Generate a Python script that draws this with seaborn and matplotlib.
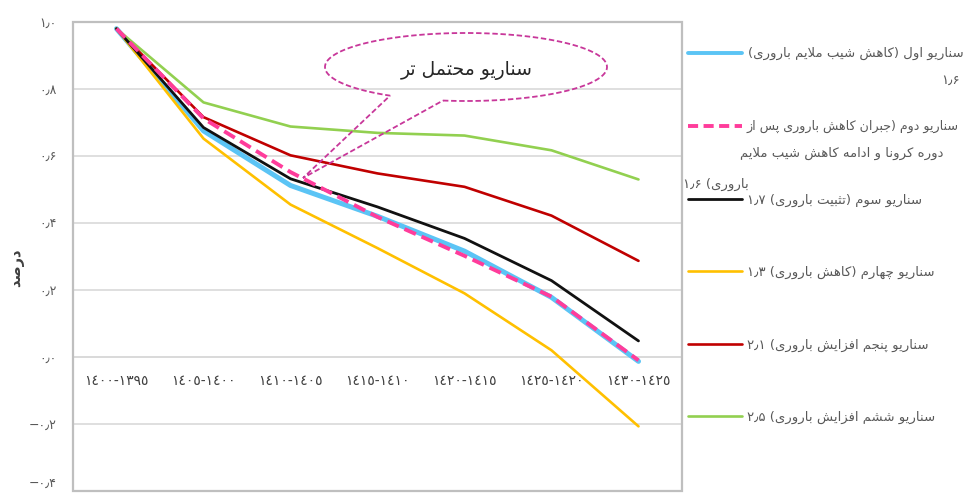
import re
import numpy as np
import pandas as pd
import matplotlib
matplotlib.use("Agg")
import matplotlib.pyplot as plt
from matplotlib.lines import Line2D
from matplotlib.patches import Polygon, Rectangle
import seaborn as sns

# ---------------- data ----------------
periods = ["١٤٠٠-١٣٩٥", "١٤٠٥-١٤٠٠", "١٤١٠-١٤٠٥", "١٤١٥-١٤١٠",
           "١٤٢٠-١٤١٥", "١٤٢٥-١٤٢٠", "١٤٣٠-١٤٢٥"]
s1_blue = [0.98, 0.675, 0.512, 0.420, 0.316, 0.178, -0.013]
s2_pink = [0.98, 0.712, 0.552, 0.418, 0.302, 0.180, -0.010]
s3_black = [0.98, 0.685, 0.532, 0.448, 0.354, 0.228, 0.048]
s4_orange = [0.98, 0.652, 0.455, 0.325, 0.190, 0.020, -0.207]
s5_red = [0.98, 0.716, 0.602, 0.548, 0.508, 0.422, 0.287]
s6_green = [0.98, 0.760, 0.688, 0.669, 0.661, 0.617, 0.530]

legend_labels = [
    "سناریو اول (کاهش شیب ملایم باروری)\n۱٫۶",
    "سناریو دوم (جبران کاهش باروری پس از\nدوره کرونا و ادامه کاهش شیب ملایم\nباروری) ۱٫۶",
    "سناریو سوم (تثبیت باروری) ۱٫۷",
    "سناریو چهارم (کاهش باروری) ۱٫۳",
    "سناریو پنجم افزایش باروری) ۲٫۱",
    "سناریو ششم افزایش باروری) ۲٫۵",
]
ytick_values = [1.0, 0.8, 0.6, 0.4, 0.2, 0.0, -0.2, -0.4]
ytick_labels = ["۱٫۰", "۰٫۸", "۰٫۶", "۰٫۴", "۰٫۲", "۰٫۰", "−۰٫۲", "−۰٫۴"]
y_title = "درصد"
callout_text = "سناریو محتمل تر"

# ---------------- Persian shaping (matplotlib has no complex text layout) ----------------
FORMS = {
    '\u0627': ('\uFE8D', '\uFE8E', None, None),
    '\u0628': ('\uFE8F', '\uFE90', '\uFE91', '\uFE92'),
    '\u062A': ('\uFE95', '\uFE96', '\uFE97', '\uFE98'),
    '\u062B': ('\uFE99', '\uFE9A', '\uFE9B', '\uFE9C'),
    '\u062C': ('\uFE9D', '\uFE9E', '\uFE9F', '\uFEA0'),
    '\u062D': ('\uFEA1', '\uFEA2', '\uFEA3', '\uFEA4'),
    '\u062E': ('\uFEA5', '\uFEA6', '\uFEA7', '\uFEA8'),
    '\u062F': ('\uFEA9', '\uFEAA', None, None),
    '\u0630': ('\uFEAB', '\uFEAC', None, None),
    '\u0631': ('\uFEAD', '\uFEAE', None, None),
    '\u0632': ('\uFEAF', '\uFEB0', None, None),
    '\u0633': ('\uFEB1', '\uFEB2', '\uFEB3', '\uFEB4'),
    '\u0634': ('\uFEB5', '\uFEB6', '\uFEB7', '\uFEB8'),
    '\u0635': ('\uFEB9', '\uFEBA', '\uFEBB', '\uFEBC'),
    '\u0641': ('\uFED1', '\uFED2', '\uFED3', '\uFED4'),
    '\u0642': ('\uFED5', '\uFED6', '\uFED7', '\uFED8'),
    '\u0644': ('\uFEDD', '\uFEDE', '\uFEDF', '\uFEE0'),
    '\u0645': ('\uFEE1', '\uFEE2', '\uFEE3', '\uFEE4'),
    '\u0646': ('\uFEE5', '\uFEE6', '\uFEE7', '\uFEE8'),
    '\u0647': ('\uFEE9', '\uFEEA', '\uFEEB', '\uFEEC'),
    '\u0648': ('\uFEED', '\uFEEE', None, None),
    '\u067E': ('\uFB56', '\uFB57', '\uFB58', '\uFB59'),
    '\u0686': ('\uFB7A', '\uFB7B', '\uFB7C', '\uFB7D'),
    '\u0698': ('\uFB8A', '\uFB8B', None, None),
    '\u06A9': ('\uFB8E', '\uFB8F', '\uFB90', '\uFB91'),
    '\u06AF': ('\uFB92', '\uFB93', '\uFB94', '\uFB95'),
    '\u06CC': ('\uFBFC', '\uFBFD', '\uFBFE', '\uFBFF'),
    'LA': ('\uFEFB', '\uFEFC', None, None),
}


def shape(text):
    chars = []
    i = 0
    while i < len(text):
        if text[i] == '\u0644' and i + 1 < len(text) and text[i + 1] == '\u0627':
            chars.append('LA')
            i += 2
        else:
            chars.append(text[i])
            i += 1
    out = []
    for k, c in enumerate(chars):
        if c not in FORMS:
            out.append(c)
            continue
        iso, fin, ini, med = FORMS[c]
        prev = chars[k - 1] if k > 0 else None
        nxt = chars[k + 1] if k + 1 < len(chars) else None
        join_prev = prev in FORMS and FORMS[prev][2] is not None
        join_next = ini is not None and nxt in FORMS
        if join_prev and join_next:
            out.append(med)
        elif join_prev:
            out.append(fin)
        elif join_next:
            out.append(ini)
        else:
            out.append(iso)
    return ''.join(out)


DIG = '0-9\u06F0-\u06F9\u0660-\u0669'
MIRROR = {'(': ')', ')': '('}


def rtl(text):
    lines = []
    for line in text.split('\n'):
        s = shape(line)
        runs = re.findall('[' + DIG + ']+(?:[\u066B.,][' + DIG + ']+)*|[^' + DIG + ']', s)
        lines.append(''.join(MIRROR.get(r, r) for r in runs[::-1]))
    return '\n'.join(lines)


# ---------------- plot ----------------
W, H = 974, 493
sns.set_theme(style="white")
plt.rcParams['font.family'] = ['DejaVu Sans']
fig = plt.figure(figsize=(W / 100, H / 100), dpi=100)
ax = fig.add_axes([73 / W, 1 - 491 / H, (682 - 73) / W, (491 - 22) / H])

x = np.arange(len(periods))
series = [
    (s1_blue, "#5BC4F5", 3.6, None),
    (s2_pink, "#FF3C9B", 2.8, (3.2, 1.6)),
    (s3_black, "#111111", 2.0, None),
    (s4_orange, "#FFC000", 1.9, None),
    (s5_red, "#C00000", 1.9, None),
    (s6_green, "#92D050", 1.9, None),
]
order = [0, 1, 3, 4, 5, 2]
zorders = {0: 3, 1: 5, 2: 4, 3: 3, 4: 3, 5: 3}
for idx in order:
    vals, col, lw, dash = series[idx]
    df = pd.DataFrame({"x": x, "v": vals})
    sns.lineplot(data=df, x="x", y="v", ax=ax, color=col, linewidth=lw,
                 zorder=zorders[idx], legend=False)
    line = ax.lines[-1]
    if dash is not None:
        line.set_dashes(dash)
    line.set_solid_capstyle('round')

ax.set_xlim(-0.5, len(periods) - 0.5)
ax.set_ylim(-0.4, 1.0)
ax.set_yticks(ytick_values)
ax.set_yticklabels(ytick_labels, color="#595959", fontsize=9)
ax.get_yticklabels()[-1].set_va('bottom')
ax.tick_params(axis='y', length=0, pad=12)
ax.yaxis.grid(True, color="#D9D9D9", linewidth=1.2)
ax.set_axisbelow(True)

# category axis crosses at 0
ax.spines['bottom'].set_position(('data', 0))
ax.spines['bottom'].set_color("#D9D9D9")
ax.spines['bottom'].set_linewidth(1.2)
for sp in ['left', 'right', 'top']:
    ax.spines[sp].set_visible(False)
ax.set_xticks(x)
ax.set_xticklabels(periods, color="#404040", fontsize=10)
ax.tick_params(axis='x', length=0, pad=12)
ax.set_xlabel("")
ax.set_ylabel("")
ax.add_patch(Rectangle((0, 0), 1, 1, transform=ax.transAxes, fill=False,
                       edgecolor="#BFBFBF", linewidth=1.6, clip_on=False, zorder=6))

fig.text(17 / W, 1 - 268 / H, rtl(y_title), rotation=90, ha='center', va='center',
         fontsize=10.5, color="#404040", fontweight='bold')


def px(xp, yp):
    return xp / W, 1 - yp / H


# ---------------- callout ----------------
cx, cy, a, b = 466, 67, 141, 34
t1, t2 = np.deg2rad(99.4), np.deg2rad(122.6 - 360)
ts = np.linspace(t1, t2, 200)
pts = [px(cx + a * np.cos(t), cy + b * np.sin(t)) for t in ts]
pts.append(px(303, 178))
fig.patches.append(Polygon(pts, closed=True, fill=False, edgecolor="#C8379A",
                           linewidth=1.3, linestyle=(0, (3, 1.5)),
                           transform=fig.transFigure, figure=fig, zorder=10))
fig.text(*px(467, 71), rtl(callout_text), ha='center', va='center',
         fontsize=13.5, color="#262626")

# ---------------- legend ----------------
key_y = [53, 126, 199, 271, 344, 416]
for (vals, col, lw, dash), ky in zip(series, key_y):
    ln = Line2D([688 / W, 742 / W], [1 - ky / H, 1 - ky / H], color=col,
                linewidth=min(lw, 2.8), transform=fig.transFigure)
    if dash is not None:
        ln.set_dashes((2.6, 1.4))
    fig.lines.append(ln)

tcol = "#595959"
fs = 9.5
l1 = legend_labels[0].split('\n')
fig.text(*px(748, 53), rtl(l1[0]), ha='left', va='center', fontsize=fs, color=tcol)
fig.text(*px(960, 80), rtl(l1[1]), ha='right', va='center', fontsize=fs, color=tcol)
l2 = legend_labels[1].split('\n')
fig.text(*px(746, 126), rtl(l2[0]), ha='left', va='center', fontsize=9.1, color=tcol)
fig.text(*px(943, 153), rtl(l2[1]), ha='right', va='center', fontsize=fs, color=tcol)
fig.text(*px(683, 184), rtl(l2[2]), ha='left', va='center', fontsize=fs, color=tcol)
for lab, ky in zip(legend_labels[2:], key_y[2:]):
    fig.text(*px(747, ky + 1), rtl(lab), ha='left', va='center', fontsize=fs, color=tcol)

fig.savefig("out.png", dpi=100)
